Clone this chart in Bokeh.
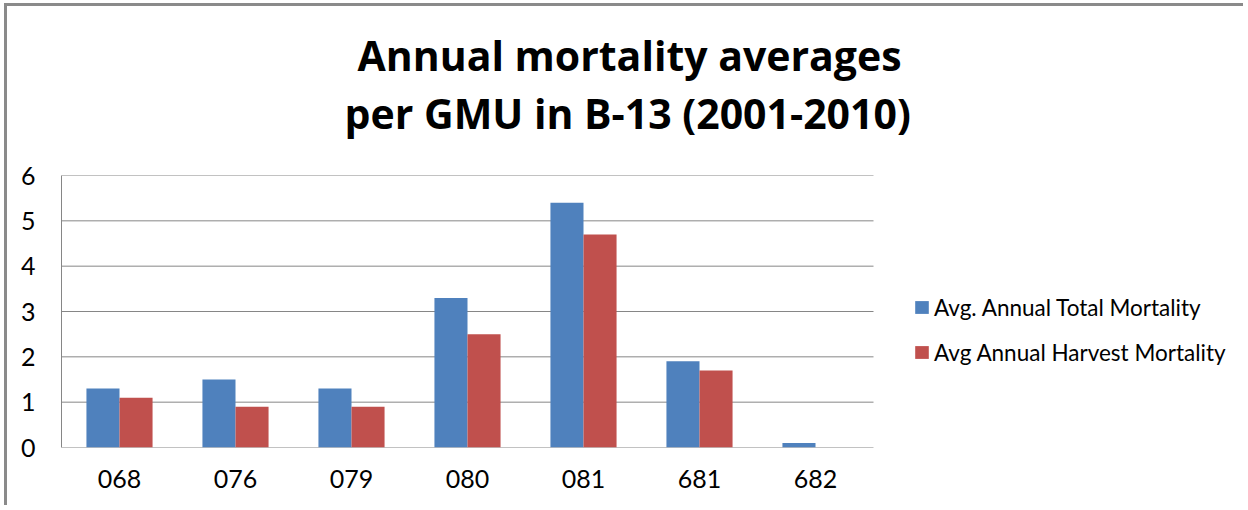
from bokeh.plotting import figure
from bokeh.models import (ColumnDataSource, FixedTicker, Legend,
                          LegendItem, Title, Range1d)
from bokeh.embed import file_html
from bokeh.resources import INLINE

# ---- data ----
gmus = ["068", "076", "079", "080", "081", "681", "682"]
total_mortality = [1.3, 1.5, 1.3, 3.3, 5.4, 1.9, 0.1]
harvest_mortality = [1.1, 0.9, 0.9, 2.5, 4.7, 1.7, 0.0]
series_names = ["Avg. Annual Total Mortality", "Avg Annual Harvest Mortality"]
title_lines = ["Annual mortality averages", "per GMU in B-13 (2001-2010)"]
y_ticks = [0, 1, 2, 3, 4, 5, 6]

BLUE = "#4F81BD"
RED = "#C0504D"
GRID = "#868686"
FONT = "Lato"
TFONT = "Open Sans"

# ---- layout constants (pixels) ----
FIG_W, FIG_H = 1239, 502
BORDER_L, BORDER_T, BORDER_B = 54, 169, 61
CAT_AREA_W = 812            # width occupied by the categories
FRAME_W = FIG_W - BORDER_L  # frame extends to the right edge (legend lives there)
BAR_W = 0.285

n = len(gmus)
idx = list(range(n))
src = ColumnDataSource(dict(
    x_total=[i - BAR_W / 2 for i in idx],
    x_harvest=[i + BAR_W / 2 for i in idx],
    total=total_mortality, harvest=harvest_mortality))

x_end = -0.5 + n * FRAME_W / CAT_AREA_W
p = figure(title=None,
           x_range=Range1d(-0.5, x_end),
           y_range=Range1d(0, 6),
           width=FIG_W, height=FIG_H,
           output_backend="svg", toolbar_location=None,
           min_border_left=BORDER_L, min_border_right=0,
           min_border_top=BORDER_T, min_border_bottom=BORDER_B)
p.styles = {"margin-top": "3px", "margin-left": "4px",
            "border-top": "3px solid #8a8a8a", "border-left": "3px solid #8a8a8a"}

p.outline_line_color = None
p.xgrid.visible = False
p.ygrid.visible = False

# horizontal gridlines only across the category area
p.segment(x0=[-0.5] * len(y_ticks), x1=[n - 0.5] * len(y_ticks),
          y0=y_ticks, y1=y_ticks, line_color=GRID, line_width=1)

r1 = p.vbar(x="x_total", top="total", width=BAR_W, source=src,
            fill_color=BLUE, line_color=None)
r2 = p.vbar(x="x_harvest", top="harvest", width=BAR_W, source=src,
            fill_color=RED, line_color=None)

p.yaxis.ticker = FixedTicker(ticks=y_ticks)
p.xaxis.ticker = FixedTicker(ticks=idx)
p.xaxis.major_label_overrides = {i: g for i, g in zip(idx, gmus)}
for ax in (p.xaxis[0], p.yaxis[0]):
    ax.axis_line_color = GRID
    ax.axis_line_width = 1
    ax.major_tick_in = 0
    ax.major_tick_out = 0
    ax.minor_tick_in = 0
    ax.minor_tick_out = 0
    ax.major_label_text_font = FONT
    ax.major_label_text_font_size = "25px"
    ax.major_label_text_color = "black"
p.xaxis.axis_line_color = None
p.yaxis.major_label_standoff = 26
p.xaxis.major_label_standoff = 22

legend = Legend(items=[LegendItem(label=series_names[0], renderers=[r1]),
                       LegendItem(label=series_names[1], renderers=[r2])],
                location=(852, 81), orientation="vertical",
                label_text_font=FONT, label_text_font_size="22.5px",
                label_text_color="black",
                glyph_width=17, glyph_height=16, label_height=28,
                label_standoff=4, spacing=17, padding=0, margin=0,
                border_line_color=None, background_fill_alpha=0)
p.add_layout(legend)

# title: spacer, then line 2, then line 1 (stacked outward from the frame)
p.add_layout(Title(text=" ", text_font_size="16px", standoff=16), "above")
p.add_layout(Title(text=title_lines[1], align="left", offset=283,
                   vertical_align="bottom", standoff=0,
                   text_font=TFONT, text_font_style="bold",
                   text_font_size="41px", text_color="black"), "above")
p.add_layout(Title(text=title_lines[0], align="left", offset=296,
                   vertical_align="bottom", standoff=0,
                   text_font=TFONT, text_font_style="bold",
                   text_font_size="41px", text_color="black"), "above")

open("out.html", "w").write(file_html(p, INLINE))
